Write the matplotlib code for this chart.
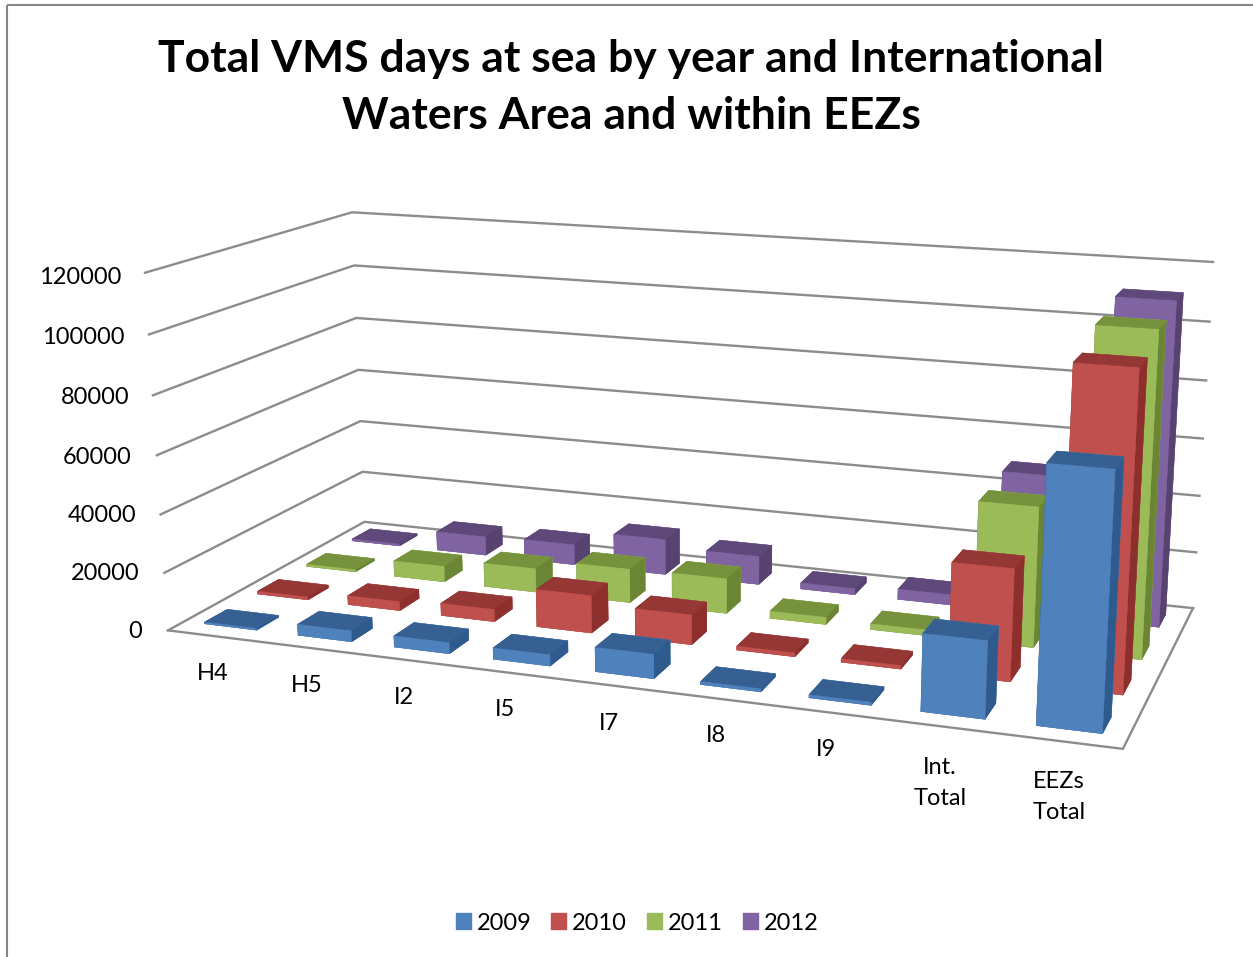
import numpy as np
import matplotlib
matplotlib.use("Agg")
import matplotlib.pyplot as plt
from matplotlib.patches import Patch, Rectangle

plt.rcParams['font.family'] = ['Lato', 'DejaVu Sans']

# data
categories = ["H4", "H5", "I2", "I5", "I7", "I8", "I9", "Int.\nTotal", "EEZs\nTotal"]
years = ["2009", "2010", "2011", "2012"]
v2009 = [600, 3800, 3800, 3800, 8100, 1000, 1000, 24800, 80600]
v2010 = [1000, 3200, 4300, 13000, 10200, 1300, 1200, 37000, 103100]
v2011 = [800, 5700, 8500, 12000, 12300, 2500, 2000, 47600, 108100]
v2012 = [700, 7000, 7500, 13000, 10300, 2200, 3700, 49000, 111000]
series = [v2009, v2010, v2011, v2012]
z_ticks = [0, 20000, 40000, 60000, 80000, 100000, 120000]

# colours: front, top, side
colours = [("#4F81BD", "#376092", "#2F5A8E"),
           ("#C0504D", "#953735", "#8C2F2D"),
           ("#9BBB59", "#76923C", "#6A8533"),
           ("#8064A2", "#5F497A", "#574270")]

W, H = 1253, 957
nx, ny = len(categories), len(years)
zmax = z_ticks[-1]

# camera fit, box corners in the image
world = [(0, 0, 0), (nx, 0, 0), (nx, ny, 0), (0, ny, 0),
         (0, ny, 20000), (0, 0, zmax), (0, ny, zmax), (nx, ny, zmax)]
image = [(168, 630), (1123, 749), (1193, 608), (364, 522),
         (363, 472), (145, 273), (352, 212), (1213, 262)]


def fit_camera(world, image):
    A, b = [], []
    for (x, y, z), (u, v) in zip(world, image):
        A.append([x, y, z, 1, 0, 0, 0, 0, -u*x, -u*y, -u*z])
        A.append([0, 0, 0, 0, x, y, z, 1, -v*x, -v*y, -v*z])
        b += [u, v]
    p = np.linalg.lstsq(np.array(A, float), np.array(b, float), rcond=None)[0]
    return np.append(p, 1.0).reshape(3, 4)


fig = plt.figure(figsize=(W/100, H/100), dpi=100)
ax = fig.add_axes([-0.2, -0.4, 1.4, 1.8], projection='3d')
ax.set_axis_off()
ax.computed_zorder = False
ax.apply_aspect()

P = fit_camera(world, image)
T = ax.transData.inverted().get_matrix()
disp_y = H*P[2] - P[1]
M = np.array([T[0, 0]*P[0] + T[0, 1]*disp_y + T[0, 2]*P[2],
              T[1, 0]*P[0] + T[1, 1]*disp_y + T[1, 2]*P[2],
              [0, 0, 0, -1],
              P[2]])
ax.get_proj = lambda: M

# grid
grid = "#8C8C8C"
for z in z_ticks:
    ax.plot([0, 0, nx], [0, ny, ny], [z, z, z], color=grid, lw=1.7, zorder=1)
ax.plot([0, nx, nx], [0, 0, ny], [0, 0, 0], color=grid, lw=1.7, zorder=1)

# bars, back row first
bar_w, bar_d = 0.56, 0.42
order = 10
for j in range(ny - 1, -1, -1):
    front, top, side = colours[j]
    faces = [top, top, front, front, side, side]
    for i in range(nx):
        ax.bar3d(i + 0.5 - bar_w/2, j + 0.5 - bar_d/2, 0, bar_w, bar_d, series[j][i],
                 color=faces, shade=False, edgecolors=faces, linewidth=0.3, zorder=order)
        order += 1

# text and frame, pixel coords
over = fig.add_axes([0, 0, 1, 1])
over.set_xlim(0, W)
over.set_ylim(H, 0)
over.axis('off')
over.add_patch(Rectangle((7, 5), W + 20, H + 20, fill=False, ec="#868686", lw=1.5))
over.text(631, 59, "Total VMS days at sea by year and International", fontsize=32, fontweight='bold',
          ha='center', va='center')
over.text(631, 116, "Waters Area and within EEZs", fontsize=32, fontweight='bold',
          ha='center', va='center')

z_label_pos = [(142, 632), (140, 573), (136, 515), (132, 457), (129, 398), (125, 337), (121, 277)]
for z, (px, py) in zip(z_ticks, z_label_pos):
    over.text(px, py, str(z), fontsize=17, ha='right', va='center', color='black')

cat_label_pos = [(213, 674), (307, 686), (404, 697), (505, 710), (609, 723), (716, 736), (826, 750),
                 (940, 783), (1059, 797)]
for name, (px, py) in zip(categories, cat_label_pos):
    over.text(px, py, name, fontsize=17, ha='center', va='center', linespacing=1.6)

fig.legend(handles=[Patch(color=colours[k][0], label=years[k]) for k in range(ny)],
           loc='center', bbox_to_anchor=(637/W, 1 - 923/H), ncol=4, frameon=False, fontsize=17,
           handlelength=0.63, handleheight=0.63, handletextpad=0.25, columnspacing=0.85)

fig.savefig("out.png", dpi=100)
